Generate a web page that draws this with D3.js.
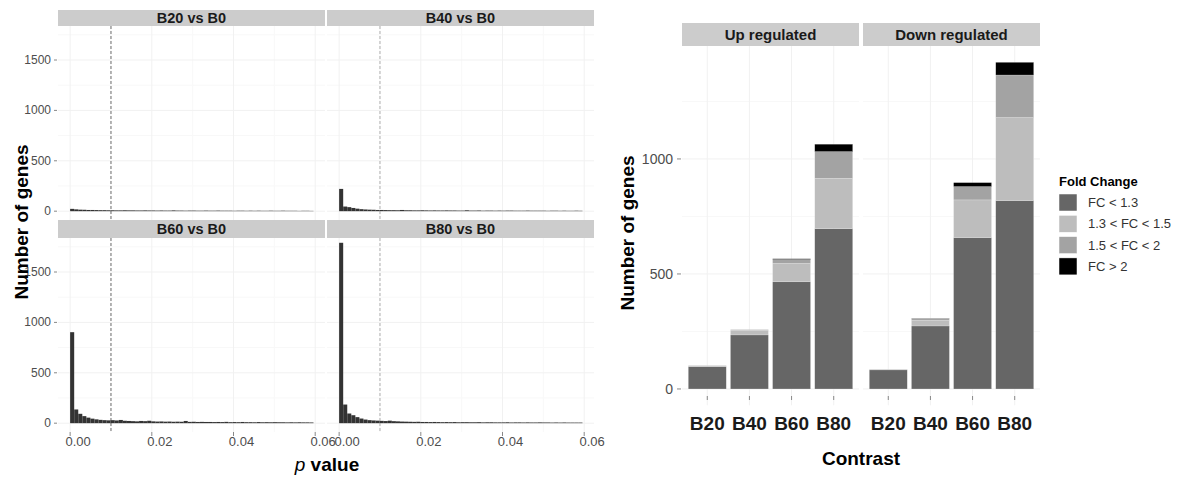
<!DOCTYPE html>
<html>
<head>
<meta charset="utf-8">
<script src="https://cdn.jsdelivr.net/npm/d3@7/dist/d3.min.js"></script>
<style>
  body { margin: 0; background: #fff; }
  svg { font-family: "Liberation Sans", Arial, Helvetica, sans-serif; }
</style>
</head>
<body>
<div id="chart"></div>
<script>
// Left: p value histograms, one count per bin starting at 0.
const binWidth = 0.000993;
const histPanels = ['B20 vs B0', 'B40 vs B0', 'B60 vs B0', 'B80 vs B0'];
const countsB20 = [23, 18, 15, 14, 12, 12, 11, 10, 10, 9, 9, 8, 8, 9, 8, 8, 7, 7, 8, 7,
  7, 6, 7, 6, 6, 8, 6, 6, 5, 6, 6, 5, 5, 6, 5, 5, 6, 5, 5, 5,
  4, 5, 5, 4, 5, 4, 5, 4, 4, 5, 4, 4, 5, 4, 4, 4, 3, 4, 4, 3];
const countsB40 = [221, 46, 40, 32, 25, 20, 17, 15, 14, 12, 12, 11, 10, 10, 9, 12, 9, 9, 8, 8,
  9, 8, 7, 8, 7, 7, 8, 7, 7, 6, 6, 9, 6, 6, 7, 5, 6, 6, 5, 6,
  5, 6, 6, 5, 5, 5, 6, 5, 5, 5, 5, 4, 5, 5, 4, 5, 4, 4, 5, 4];
const countsB60 = [903, 136, 93, 70, 55, 45, 38, 33, 30, 28, 30, 27, 32, 24, 22, 20, 18, 22, 20, 24,
  18, 16, 17, 15, 16, 14, 15, 14, 22, 13, 14, 12, 13, 12, 12, 11, 12, 11, 13, 10,
  11, 10, 12, 10, 10, 9, 11, 9, 10, 9, 10, 9, 9, 8, 9, 8, 9, 8, 8, 7];
const countsB80 = [1790, 185, 96, 79, 60, 46, 36, 30, 27, 25, 23, 21, 25, 20, 18, 16, 15, 14, 13, 14,
  12, 12, 11, 12, 11, 10, 11, 10, 11, 9, 10, 10, 9, 9, 10, 8, 9, 9, 8, 8,
  8, 9, 7, 8, 8, 7, 8, 7, 7, 8, 7, 7, 6, 7, 6, 7, 6, 6, 6, 6];
const histCounts = [countsB20, countsB40, countsB60, countsB80];
const pCutoff = 0.01;
const pTicks = [0, 0.02, 0.04, 0.06];
const pMinor = [0.01, 0.03, 0.05];
const histYTicks = [0, 500, 1000, 1500];
const histYMinor = [250, 750, 1250, 1750];

// Right: stacked bars by fold change class.
const contrasts = ['B20', 'B40', 'B60', 'B80'];
const directions = ['Up regulated', 'Down regulated'];
const fcClasses = ['FC < 1.3', '1.3 < FC < 1.5', '1.5 < FC < 2', 'FC > 2'];
const fcColors = ['#666666', '#bdbdbd', '#a3a3a3', '#000000'];
const upFC13 = [97, 235, 466, 697];
const upFC15 = [4, 20, 80, 219];
const upFC2 = [1, 3, 17, 116];
const upFC2plus = [0, 0, 3, 32];
const downFC13 = [83, 274, 658, 819];
const downFC15 = [2, 24, 164, 361];
const downFC2 = [1, 8, 58, 185];
const downFC2plus = [0, 1, 17, 55];
const barYTicks = [0, 500, 1000];
const barYMinor = [250, 750, 1250];

const W = 1179, H = 477;
const svg = d3.select('#chart').append('svg')
  .attr('width', W).attr('height', H);

const gridMajor = '#f1f1f1', gridMinor = '#f8f8f8';
const stripFill = '#cccccc';

// ---- histogram facets ----
const cols = [[58, 325], [327, 594]];
const rows = [{strip: [10, 26], panel: [26, 220]}, {strip: [220, 238], panel: [238, 432]}];

histPanels.forEach((name, i) => {
  const c = cols[i % 2], r = rows[Math.floor(i / 2)];
  const x = d3.scaleLinear().domain([-0.00297, 0.0624]).range(c);
  const y = d3.scaleLinear().domain([-87.5, 1837.5]).range([r.panel[1], r.panel[0]]);
  const g = svg.append('g');

  g.selectAll('.hmin').data(histYMinor).join('line')
    .attr('x1', c[0]).attr('x2', c[1]).attr('y1', d => y(d)).attr('y2', d => y(d))
    .attr('stroke', gridMinor);
  g.selectAll('.vmin').data(pMinor).join('line')
    .attr('x1', d => x(d)).attr('x2', d => x(d)).attr('y1', r.panel[0]).attr('y2', r.panel[1])
    .attr('stroke', gridMinor);
  g.selectAll('.hmaj').data(histYTicks).join('line')
    .attr('x1', c[0]).attr('x2', c[1]).attr('y1', d => y(d)).attr('y2', d => y(d))
    .attr('stroke', gridMajor);
  g.selectAll('.vmaj').data(pTicks).join('line')
    .attr('x1', d => x(d)).attr('x2', d => x(d)).attr('y1', r.panel[0]).attr('y2', r.panel[1])
    .attr('stroke', gridMajor);

  g.selectAll('rect.bin').data(histCounts[i]).join('rect')
    .attr('class', 'bin')
    .attr('x', (d, k) => x(k * binWidth))
    .attr('width', x(binWidth) - x(0))
    .attr('y', d => y(d))
    .attr('height', d => y(0) - y(d))
    .attr('fill', '#333333');

  g.append('line')
    .attr('x1', x(pCutoff)).attr('x2', x(pCutoff))
    .attr('y1', r.panel[0]).attr('y2', r.panel[1])
    .attr('stroke', i % 2 === 0 ? '#444' : '#999')
    .attr('stroke-width', 0.8)
    .attr('stroke-dasharray', '3,2');

  g.append('rect')
    .attr('x', c[0]).attr('y', r.strip[0])
    .attr('width', c[1] - c[0]).attr('height', r.strip[1] - r.strip[0])
    .attr('fill', stripFill);
  g.append('text')
    .attr('x', (c[0] + c[1]) / 2).attr('y', (r.strip[0] + r.strip[1]) / 2 + 5)
    .attr('text-anchor', 'middle')
    .attr('font-size', '14.5px').attr('font-weight', 'bold').attr('fill', '#1a1a1a')
    .text(name);

  if (i % 2 === 0) {
    g.selectAll('.yt').data(histYTicks).join('line')
      .attr('x1', 54).attr('x2', 57).attr('y1', d => y(d)).attr('y2', d => y(d))
      .attr('stroke', '#888');
    g.selectAll('.yl').data(histYTicks).join('text')
      .attr('x', 51).attr('y', d => y(d) + 4)
      .attr('text-anchor', 'end').attr('font-size', '12px').attr('fill', '#4d4d4d')
      .text(d => d);
  }
  if (i >= 2) {
    g.selectAll('.xt').data(pTicks).join('line')
      .attr('x1', d => x(d)).attr('x2', d => x(d)).attr('y1', r.panel[1]).attr('y2', r.panel[1] + 4)
      .attr('stroke', '#888');
    g.selectAll('.xl').data(pTicks).join('text')
      .attr('x', d => x(d) + 8).attr('y', 446)
      .attr('text-anchor', 'middle').attr('font-size', '13px').attr('fill', '#4d4d4d')
      .text(d => d3.format('.2f')(d));
  }
});

svg.append('text')
  .attr('transform', 'translate(28,222) rotate(-90)')
  .attr('text-anchor', 'middle').attr('font-size', '19px').attr('font-weight', 'bold')
  .text('Number of genes');

const pLab = svg.append('text')
  .attr('x', 327).attr('y', 471)
  .attr('text-anchor', 'middle').attr('font-size', '19px');
pLab.append('tspan').attr('font-style', 'italic').text('p');
pLab.append('tspan').attr('font-weight', 'bold').text(' value');

// ---- stacked bars ----
const barPanels = [[682, 859], [863, 1040]];
const barStrip = [23, 46], barPanelY = [46, 405.3];
const yBar = d3.scaleLinear().domain([-71, 1491]).range([barPanelY[1], barPanelY[0]]);
const barData = [
  [upFC13, upFC15, upFC2, upFC2plus],
  [downFC13, downFC15, downFC2, downFC2plus]
];

directions.forEach((dir, j) => {
  const p = barPanels[j];
  const x = d3.scaleBand().domain(contrasts).range(p).paddingInner(0.1).paddingOuter(0.15);
  const g = svg.append('g');

  g.selectAll('.hmin').data(barYMinor).join('line')
    .attr('x1', p[0]).attr('x2', p[1]).attr('y1', d => yBar(d)).attr('y2', d => yBar(d))
    .attr('stroke', gridMinor);
  g.selectAll('.hmaj').data(barYTicks).join('line')
    .attr('x1', p[0]).attr('x2', p[1]).attr('y1', d => yBar(d)).attr('y2', d => yBar(d))
    .attr('stroke', gridMajor);
  g.selectAll('.vmaj').data(contrasts).join('line')
    .attr('x1', d => x(d) + x.bandwidth() / 2).attr('x2', d => x(d) + x.bandwidth() / 2)
    .attr('y1', barPanelY[0]).attr('y2', barPanelY[1])
    .attr('stroke', gridMajor);

  const rowsData = contrasts.map((ct, k) => {
    const o = {contrast: ct};
    fcClasses.forEach((fc, m) => { o[fc] = barData[j][m][k]; });
    return o;
  });
  const stacked = d3.stack().keys(fcClasses)(rowsData);

  g.selectAll('g.layer').data(stacked).join('g')
    .attr('class', 'layer')
    .attr('fill', (d, m) => fcColors[m])
    .selectAll('rect').data(d => d.filter(s => s[1] > s[0])).join('rect')
      .attr('x', d => x(d.data.contrast))
      .attr('width', x.bandwidth())
      .attr('y', d => yBar(d[1]))
      .attr('height', d => yBar(d[0]) - yBar(d[1]))
      .attr('stroke', 'rgba(255,255,255,0.35)')
      .attr('stroke-width', 0.5);

  g.append('rect')
    .attr('x', p[0]).attr('y', barStrip[0])
    .attr('width', p[1] - p[0]).attr('height', barStrip[1] - barStrip[0])
    .attr('fill', stripFill);
  g.append('text')
    .attr('x', (p[0] + p[1]) / 2).attr('y', (barStrip[0] + barStrip[1]) / 2 + 5.5)
    .attr('text-anchor', 'middle')
    .attr('font-size', '15px').attr('font-weight', 'bold').attr('fill', '#1a1a1a')
    .text(dir);

  g.selectAll('.xt').data(contrasts).join('line')
    .attr('x1', d => x(d) + x.bandwidth() / 2).attr('x2', d => x(d) + x.bandwidth() / 2)
    .attr('y1', 396).attr('y2', 400)
    .attr('stroke', '#888');
  g.selectAll('.xl').data(contrasts).join('text')
    .attr('x', d => x(d) + x.bandwidth() / 2).attr('y', 430)
    .attr('text-anchor', 'middle').attr('font-size', '19px').attr('font-weight', 'bold')
    .attr('fill', '#1a1a1a')
    .text(d => d);

  if (j === 0) {
    g.selectAll('.yt').data(barYTicks).join('line')
      .attr('x1', 677).attr('x2', 681).attr('y1', d => yBar(d)).attr('y2', d => yBar(d))
      .attr('stroke', '#888');
    g.selectAll('.yl').data(barYTicks).join('text')
      .attr('x', 673).attr('y', d => yBar(d) + 5)
      .attr('text-anchor', 'end').attr('font-size', '14px').attr('fill', '#4d4d4d')
      .text(d => d);
  }
});

svg.append('text')
  .attr('transform', 'translate(634,233) rotate(-90)')
  .attr('text-anchor', 'middle').attr('font-size', '19px').attr('font-weight', 'bold')
  .text('Number of genes');

svg.append('text')
  .attr('x', 861).attr('y', 465)
  .attr('text-anchor', 'middle').attr('font-size', '19px').attr('font-weight', 'bold')
  .text('Contrast');

// ---- legend ----
const leg = svg.append('g').attr('transform', 'translate(1059,0)');
leg.append('text')
  .attr('x', 0).attr('y', 186)
  .attr('font-size', '13px').attr('font-weight', 'bold')
  .text('Fold Change');
fcClasses.forEach((fc, m) => {
  const ky = 194 + m * 21.3;
  leg.append('rect')
    .attr('x', 0).attr('y', ky).attr('width', 18).attr('height', 17)
    .attr('fill', fcColors[m]).attr('stroke', '#fff').attr('stroke-width', 0.5);
  leg.append('text')
    .attr('x', 29).attr('y', ky + 13)
    .attr('font-size', '13px').attr('fill', '#333')
    .text(fc);
});
</script>
</body>
</html>
